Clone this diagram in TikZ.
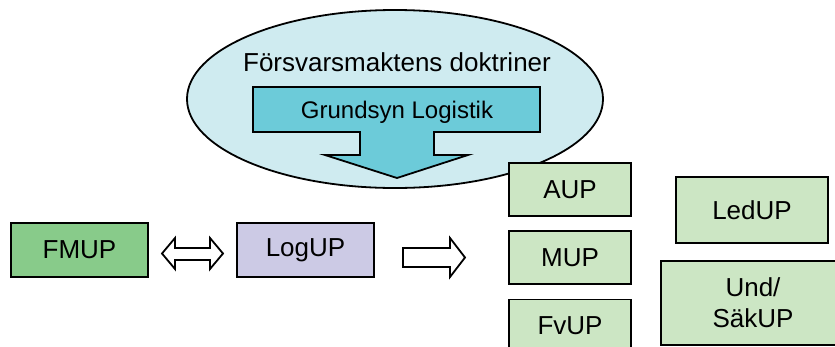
\documentclass[tikz,border=0pt]{standalone}
\usepackage{fontspec}
\setmainfont{Liberation Sans}
\usetikzlibrary{shapes.geometric}
\begin{document}
\begin{tikzpicture}[x=1pt,y=-1pt,
  lbl/.style={font=\fontsize{26}{31}\selectfont},
  upbox/.style={draw=black,line width=1.8pt,fill=upgreen,inner sep=0pt,lbl},
  blockarrow/.style={draw=black,line width=1.8pt,line join=miter,fill=white}]
\definecolor{upgreen}{HTML}{CCE6C4}
\definecolor{fmgreen}{HTML}{88CB8A}
\definecolor{loglav}{HTML}{CCCAE5}
\definecolor{ellfill}{HTML}{CFEBF0}
\definecolor{arrfill}{HTML}{6CCBD9}
\useasboundingbox (0,0) rectangle (835,346);
\clip (0,0) rectangle (835,346);
% ellipse
\node[draw=black,line width=1.8pt,fill=ellfill,ellipse,minimum width=416pt,minimum height=178pt,inner sep=0pt] (ell) at (395,99) {};
\node[lbl,anchor=center] (doc) at (397,62) {Försvarsmaktens doktriner};
% Grundsyn arrow
\draw[blockarrow,fill=arrfill] (253,87) -- (540,87) -- (540,132) -- (434,132) -- (434,155) -- (468,155) -- (397,178) -- (325,155) -- (360,155) -- (360,132) -- (253,132) -- cycle;
\node[font=\fontsize{24}{28}\selectfont] (grund) at (397,112) {Grundsyn Logistik};
% left boxes
\node[upbox,fill=fmgreen,minimum width=137pt,minimum height=54pt] (fmup) at (79.5,250) {FMUP};
\node[upbox,fill=loglav,minimum width=137pt,minimum height=54pt] (logup) at (305.5,250) {LogUP};
% double arrow
\draw[blockarrow] (162,253.5) -- (175,238) -- (175,248) -- (210,248) -- (210,238) -- (223,253.5) -- (210,269) -- (210,260) -- (175,260) -- (175,269) -- cycle;
% right arrow
\draw[blockarrow] (403,248) -- (450,248) -- (450,238) -- (465,257.5) -- (450,277) -- (450,267) -- (403,267) -- cycle;
% UP boxes
\node[upbox,minimum width=122pt,minimum height=53pt] (aup) at (570,189.5) {AUP};
\node[upbox,minimum width=122pt,minimum height=53pt] (mup) at (570,257.5) {MUP};
\node[upbox,minimum width=122pt,minimum height=53pt] (fvup) at (570,326) {FvUP};
\node[upbox,minimum width=152pt,minimum height=66pt] (ledup) at (752,210) {LedUP};
\node[upbox,minimum width=184pt,minimum height=84pt,align=center] (undup) at (753,303) {Und/\\SäkUP};
\end{tikzpicture}
\end{document}
